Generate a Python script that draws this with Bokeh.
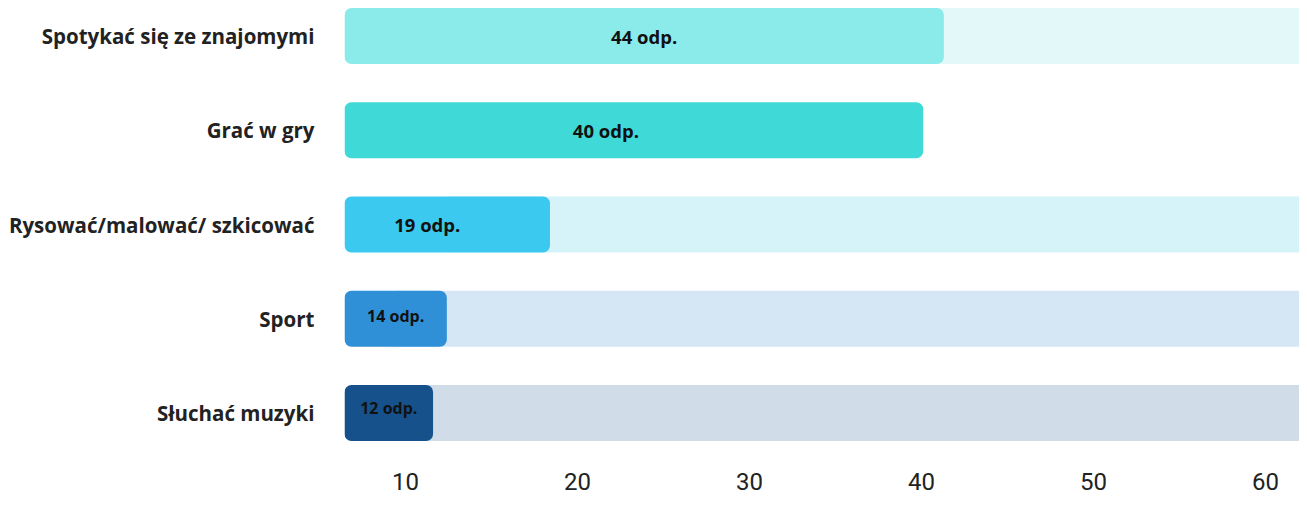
from bokeh.plotting import figure
from bokeh.models import Range1d, FixedTicker, ColumnDataSource
from bokeh.core.properties import value
from bokeh.embed import file_html
from bokeh.resources import INLINE

# ---- data ----
categories = ["Spotykać się ze znajomymi", "Grać w gry", "Rysować/malować/ szkicować", "Sport", "Słuchać muzyki"]
counts = [44, 40, 19, 14, 12]
# bar ends as they sit on the drawn axis
bar_ends = [41.3, 40.1, 18.4, 12.4, 11.6]
x_ticks = [10, 20, 30, 40, 50, 60]

# ---- styles ----
bar_colors = ["#8beaea", "#3fdad7", "#3bc9ef", "#2f90d7", "#17518b"]
track_colors = ["#e3f8f8", "#ffffff", "#d6f3fa", "#d5e7f5", "#d0dce8"]
label_sizes = ["18.5px", "18.5px", "18.5px", "16px", "16px"]
label_yoff = [0, 0, 0, -3, -5]
label_xoff = [0, -28, -20, 0, 0]

x_lo, x_hi = 6.45, 61.98
y_pos = [5, 4, 3, 2, 1]
bar_h = 0.594

src = ColumnDataSource(dict(
    y=y_pos,
    left=[x_lo] * len(counts),
    right=bar_ends,
    mid=[(x_lo + e) / 2 for e in bar_ends],
    track_right=[x_hi + 5] * len(counts),
    color=bar_colors,
    tcolor=track_colors,
    label=[f"{c} odp." for c in counts],
    fs=label_sizes,
    yoff=label_yoff,
    xoff=label_xoff,
))

p = figure(width=1299, height=498, x_range=Range1d(x_lo, x_hi), y_range=Range1d(0.5703, 5.3767),
           output_backend="svg", toolbar_location=None,
           min_border_left=344, min_border_right=0, min_border_top=0, min_border_bottom=45)
p.outline_line_color = None
p.xgrid.visible = False
p.ygrid.visible = False
p.background_fill_color = "white"

# background tracks
p.hbar(y="y", left="mid", right="track_right", height=bar_h, source=src,
       fill_color="tcolor", line_color=None)
# bars
p.hbar(y="y", left="left", right="right", height=bar_h, source=src,
       fill_color="color", line_color=None, border_radius=7)
# value labels
p.text(x="mid", y="y", text="label", source=src, y_offset="yoff", x_offset="xoff",
       text_align="center", text_baseline="middle",
       text_font=value("Open Sans"), text_font_style="bold",
       text_font_size="fs", text_color="#111111")

xa = p.xaxis[0]
xa.ticker = FixedTicker(ticks=x_ticks)
xa.axis_line_color = None
xa.major_tick_line_color = None
xa.minor_tick_line_color = None
xa.major_label_text_font = "Roboto"
xa.major_label_text_font_size = "24px"
xa.major_label_text_color = "#222222"
xa.major_label_standoff = 13

ya = p.yaxis[0]
ya.ticker = FixedTicker(ticks=y_pos)
ya.major_label_overrides = {y: c for y, c in zip(y_pos, categories)}
ya.axis_line_color = None
ya.major_tick_line_color = None
ya.minor_tick_line_color = None
ya.major_label_text_font = "Open Sans"
ya.major_label_text_font_style = "bold"
ya.major_label_text_font_size = "20.5px"
ya.major_label_text_color = "#222222"
ya.major_label_standoff = 24

open("out.html", "w").write(file_html(p, INLINE))
